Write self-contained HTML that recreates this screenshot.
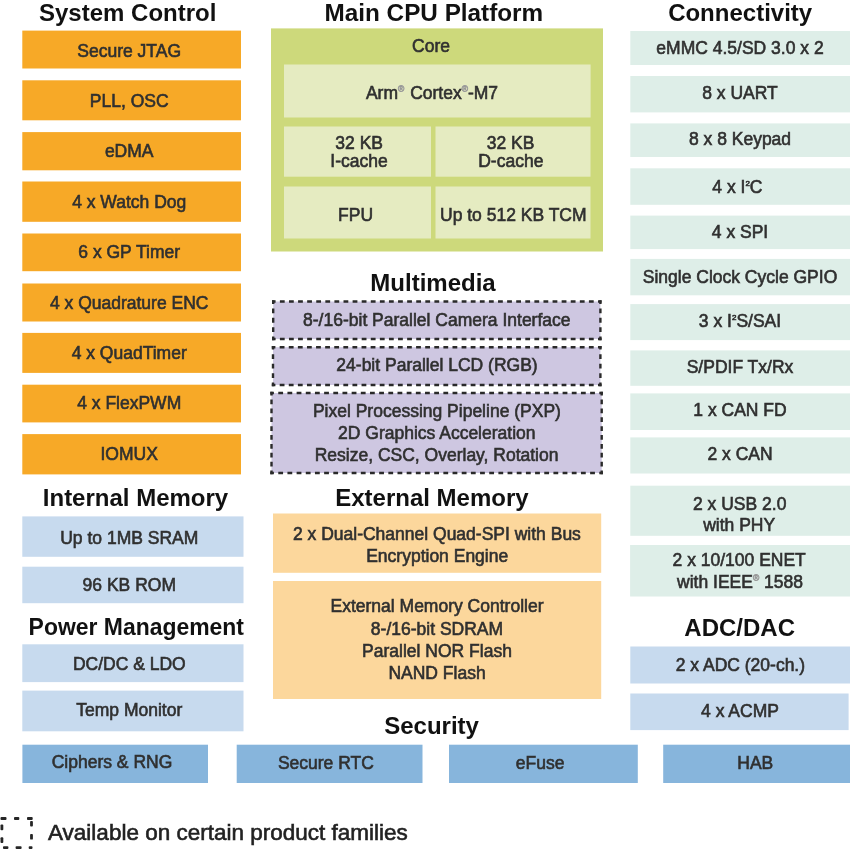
<!DOCTYPE html>
<html><head><meta charset="utf-8"><style>
html,body{margin:0;padding:0;background:#fff;width:850px;height:850px;overflow:hidden}
svg{display:block;will-change:transform}
text{font-family:"Liberation Sans",sans-serif}
</style></head><body>
<svg width="850" height="850" viewBox="0 0 850 850">
<rect width="850" height="850" fill="#fff"/>
<text x="127.7" y="21" font-size="24.0" font-weight="bold" fill="#111" stroke="#111" stroke-width="0" text-anchor="middle">System Control</text>
<text x="433.85" y="20.8" font-size="24.3" font-weight="bold" fill="#111" stroke="#111" stroke-width="0" text-anchor="middle">Main CPU Platform</text>
<text x="740.15" y="21.1" font-size="24.0" font-weight="bold" fill="#111" stroke="#111" stroke-width="0" text-anchor="middle">Connectivity</text>
<text x="433.0" y="290.7" font-size="24.0" font-weight="bold" fill="#111" stroke="#111" stroke-width="0" text-anchor="middle">Multimedia</text>
<text x="135.5" y="505.9" font-size="24.0" font-weight="bold" fill="#111" stroke="#111" stroke-width="0" text-anchor="middle">Internal Memory</text>
<text x="431.9" y="505.9" font-size="24.0" font-weight="bold" fill="#111" stroke="#111" stroke-width="0" text-anchor="middle">External Memory</text>
<text transform="translate(136.3,634.7) scale(0.956,1)" x="0" y="0" font-size="24" font-weight="bold" fill="#111" text-anchor="middle">Power Management</text>
<text x="739.7" y="635.9" font-size="24.0" font-weight="bold" fill="#111" stroke="#111" stroke-width="0" text-anchor="middle">ADC/DAC</text>
<text x="431.55" y="734.3" font-size="24.0" font-weight="bold" fill="#111" stroke="#111" stroke-width="0" text-anchor="middle">Security</text>
<rect x="22.3" y="30.6" width="218.70" height="37.90" fill="#F7A927"/>
<text x="129.2" y="56.6" font-size="17.5" fill="#303030" stroke="#303030" stroke-width="0.6" text-anchor="middle">Secure JTAG</text>
<rect x="22.3" y="80.3" width="218.70" height="40.00" fill="#F7A927"/>
<text x="129.2" y="107.0" font-size="17.5" fill="#303030" stroke="#303030" stroke-width="0.6" text-anchor="middle">PLL, OSC</text>
<rect x="22.3" y="132.1" width="218.70" height="38.20" fill="#F7A927"/>
<text x="129.2" y="157.4" font-size="17.5" fill="#303030" stroke="#303030" stroke-width="0.6" text-anchor="middle">eDMA</text>
<rect x="22.3" y="181.5" width="218.70" height="40.30" fill="#F7A927"/>
<text x="129.2" y="207.79999999999998" font-size="17.5" fill="#303030" stroke="#303030" stroke-width="0.6" text-anchor="middle">4 x Watch Dog</text>
<rect x="22.3" y="233.5" width="218.70" height="37.70" fill="#F7A927"/>
<text x="129.2" y="258.2" font-size="17.5" fill="#303030" stroke="#303030" stroke-width="0.6" text-anchor="middle">6 x GP Timer</text>
<rect x="22.3" y="283.5" width="218.70" height="38.00" fill="#F7A927"/>
<text x="129.2" y="308.6" font-size="17.5" fill="#303030" stroke="#303030" stroke-width="0.6" text-anchor="middle">4 x Quadrature ENC</text>
<rect x="22.3" y="332.9" width="218.70" height="40.00" fill="#F7A927"/>
<text x="129.2" y="359.0" font-size="17.5" fill="#303030" stroke="#303030" stroke-width="0.6" text-anchor="middle">4 x QuadTimer</text>
<rect x="22.3" y="384.7" width="218.70" height="37.70" fill="#F7A927"/>
<text x="129.2" y="409.40000000000003" font-size="17.5" fill="#303030" stroke="#303030" stroke-width="0.6" text-anchor="middle">4 x FlexPWM</text>
<rect x="22.3" y="434.1" width="218.70" height="40.30" fill="#F7A927"/>
<text x="129.2" y="459.8" font-size="17.5" fill="#303030" stroke="#303030" stroke-width="0.6" text-anchor="middle">IOMUX</text>
<rect x="22.3" y="516.4" width="221.20" height="40.40" fill="#C7DAEE"/>
<text x="129.3" y="543.5" font-size="17.5" fill="#303030" stroke="#303030" stroke-width="0.6" text-anchor="middle">Up to 1MB SRAM</text>
<rect x="22.3" y="566.7" width="221.20" height="36.50" fill="#C7DAEE"/>
<text x="129.3" y="590.6" font-size="17.5" fill="#303030" stroke="#303030" stroke-width="0.6" text-anchor="middle">96 KB ROM</text>
<rect x="22.3" y="644.3" width="221.20" height="37.80" fill="#C7DAEE"/>
<text x="129.3" y="670.3" font-size="17.5" fill="#303030" stroke="#303030" stroke-width="0.6" text-anchor="middle">DC/DC &amp; LDO</text>
<rect x="22.3" y="690.6" width="221.20" height="40.70" fill="#C7DAEE"/>
<text x="129.3" y="716.3" font-size="17.5" fill="#303030" stroke="#303030" stroke-width="0.6" text-anchor="middle">Temp Monitor</text>
<rect x="22.4" y="744.7" width="185.60" height="38.30" fill="#87B5DC"/>
<text x="112" y="767.7" font-size="17.5" fill="#303030" stroke="#303030" stroke-width="0.6" text-anchor="middle">Ciphers &amp; RNG</text>
<rect x="236.7" y="744.7" width="185.80" height="38.30" fill="#87B5DC"/>
<text x="325.9" y="768.5" font-size="17.5" fill="#303030" stroke="#303030" stroke-width="0.6" text-anchor="middle">Secure RTC</text>
<rect x="449" y="744.7" width="188.80" height="38.30" fill="#87B5DC"/>
<text x="540.1" y="768.8" font-size="17.5" fill="#303030" stroke="#303030" stroke-width="0.6" text-anchor="middle">eFuse</text>
<rect x="663.2" y="744.7" width="186.80" height="38.30" fill="#87B5DC"/>
<text x="755.3" y="769.3" font-size="17.5" fill="#303030" stroke="#303030" stroke-width="0.6" text-anchor="middle">HAB</text>
<rect x="271" y="28.4" width="332.00" height="223.10" fill="#CDD97B"/>
<text x="431" y="52" font-size="17.5" fill="#303030" stroke="#303030" stroke-width="0.6" text-anchor="middle">Core</text>
<rect x="284" y="64.5" width="306.60" height="53.00" fill="#E5EBC1"/>
<text x="432" y="98.8" font-size="17.5" fill="#303030" stroke="#303030" stroke-width="0.6" text-anchor="middle">Arm<tspan font-size="8.5" dy="-7" fill="#999" stroke="#999">®</tspan><tspan dy="7" dx="1"> Cortex</tspan><tspan font-size="8.5" dy="-7" fill="#999" stroke="#999">®</tspan><tspan dy="7">-M7</tspan></text>
<rect x="284" y="126.5" width="147.00" height="50.20" fill="#E5EBC1"/>
<rect x="435.5" y="126.5" width="155.00" height="50.20" fill="#E5EBC1"/>
<rect x="284" y="186.5" width="147.00" height="52.00" fill="#E5EBC1"/>
<rect x="435.5" y="186.5" width="155.00" height="52.00" fill="#E5EBC1"/>
<text x="359.2" y="148.5" font-size="17.5" fill="#303030" stroke="#303030" stroke-width="0.6" text-anchor="middle">32 KB</text>
<text x="359" y="167.2" font-size="17.5" fill="#303030" stroke="#303030" stroke-width="0.6" text-anchor="middle">I-cache</text>
<text x="510.6" y="148.5" font-size="17.5" fill="#303030" stroke="#303030" stroke-width="0.6" text-anchor="middle">32 KB</text>
<text x="510.8" y="167.2" font-size="17.5" fill="#303030" stroke="#303030" stroke-width="0.6" text-anchor="middle">D-cache</text>
<text x="355.6" y="221" font-size="17.5" fill="#303030" stroke="#303030" stroke-width="0.6" text-anchor="middle">FPU</text>
<text x="513.3" y="221" font-size="17.5" fill="#303030" stroke="#303030" stroke-width="0.6" text-anchor="middle">Up to 512 KB TCM</text>
<rect x="273.2" y="301.5" width="327.20" height="37.50" fill="#CEC7E1"/>
<line x1="273.2" y1="301.5" x2="600.4" y2="301.5" stroke="#2a2a2a" stroke-width="2.4" stroke-linecap="square" stroke-dasharray="2.400 6.689" stroke-dashoffset="1.200"/>
<line x1="600.4" y1="301.5" x2="600.4" y2="339" stroke="#2a2a2a" stroke-width="2.4" stroke-linecap="square" stroke-dasharray="2.400 6.975" stroke-dashoffset="1.200"/>
<line x1="273.2" y1="339" x2="600.4" y2="339" stroke="#2a2a2a" stroke-width="2.4" stroke-linecap="square" stroke-dasharray="2.400 6.689" stroke-dashoffset="1.200"/>
<line x1="273.2" y1="301.5" x2="273.2" y2="339" stroke="#2a2a2a" stroke-width="2.4" stroke-linecap="square" stroke-dasharray="2.400 6.975" stroke-dashoffset="1.200"/>
<rect x="273" y="347.2" width="327.40" height="37.80" fill="#CEC7E1"/>
<line x1="273" y1="347.2" x2="600.4" y2="347.2" stroke="#2a2a2a" stroke-width="2.4" stroke-linecap="square" stroke-dasharray="2.400 6.694" stroke-dashoffset="1.200"/>
<line x1="600.4" y1="347.2" x2="600.4" y2="385" stroke="#2a2a2a" stroke-width="2.4" stroke-linecap="square" stroke-dasharray="2.400 7.050" stroke-dashoffset="1.200"/>
<line x1="273" y1="385" x2="600.4" y2="385" stroke="#2a2a2a" stroke-width="2.4" stroke-linecap="square" stroke-dasharray="2.400 6.694" stroke-dashoffset="1.200"/>
<line x1="273" y1="347.2" x2="273" y2="385" stroke="#2a2a2a" stroke-width="2.4" stroke-linecap="square" stroke-dasharray="2.400 7.050" stroke-dashoffset="1.200"/>
<rect x="271.5" y="393" width="330.20" height="80.00" fill="#CEC7E1"/>
<line x1="271.5" y1="393" x2="601.7" y2="393" stroke="#2a2a2a" stroke-width="2.4" stroke-linecap="square" stroke-dasharray="2.400 6.772" stroke-dashoffset="1.200"/>
<line x1="601.7" y1="393" x2="601.7" y2="473" stroke="#2a2a2a" stroke-width="2.4" stroke-linecap="square" stroke-dasharray="2.400 6.489" stroke-dashoffset="1.200"/>
<line x1="271.5" y1="473" x2="601.7" y2="473" stroke="#2a2a2a" stroke-width="2.4" stroke-linecap="square" stroke-dasharray="2.400 6.772" stroke-dashoffset="1.200"/>
<line x1="271.5" y1="393" x2="271.5" y2="473" stroke="#2a2a2a" stroke-width="2.4" stroke-linecap="square" stroke-dasharray="2.400 6.489" stroke-dashoffset="1.200"/>
<text x="436.8" y="325.5" font-size="17.5" fill="#303030" stroke="#303030" stroke-width="0.6" text-anchor="middle">8-/16-bit Parallel Camera Interface</text>
<text x="437" y="371.1" font-size="17.5" fill="#303030" stroke="#303030" stroke-width="0.6" text-anchor="middle">24-bit Parallel LCD (RGB)</text>
<text x="436.9" y="416.5" font-size="17.5" fill="#303030" stroke="#303030" stroke-width="0.6" text-anchor="middle">Pixel Processing Pipeline (PXP)</text>
<text x="436.8" y="439" font-size="17.5" fill="#303030" stroke="#303030" stroke-width="0.6" text-anchor="middle">2D Graphics Acceleration</text>
<text x="436.6" y="460.7" font-size="17.5" fill="#303030" stroke="#303030" stroke-width="0.6" text-anchor="middle">Resize, CSC, Overlay, Rotation</text>
<rect x="273" y="513.5" width="328.20" height="59.30" fill="#FCD79C"/>
<rect x="273" y="581" width="328.20" height="118.00" fill="#FCD79C"/>
<text x="436.9" y="540.3" font-size="17.5" fill="#303030" stroke="#303030" stroke-width="0.6" text-anchor="middle">2 x Dual-Channel Quad-SPI with Bus</text>
<text x="437.2" y="561.8" font-size="17.5" fill="#303030" stroke="#303030" stroke-width="0.6" text-anchor="middle">Encryption Engine</text>
<text x="437" y="612.3" font-size="17.5" fill="#303030" stroke="#303030" stroke-width="0.6" text-anchor="middle">External Memory Controller</text>
<text x="437" y="634.6" font-size="17.5" fill="#303030" stroke="#303030" stroke-width="0.6" text-anchor="middle">8-/16-bit SDRAM</text>
<text x="437" y="656.8" font-size="17.5" fill="#303030" stroke="#303030" stroke-width="0.6" text-anchor="middle">Parallel NOR Flash</text>
<text x="437" y="679" font-size="17.5" fill="#303030" stroke="#303030" stroke-width="0.6" text-anchor="middle">NAND Flash</text>
<rect x="630.3" y="31" width="219.70" height="34.00" fill="#DEEEE8"/>
<text x="740" y="54.1" font-size="17.5" fill="#303030" stroke="#303030" stroke-width="0.6" text-anchor="middle">eMMC 4.5/SD 3.0 x 2</text>
<rect x="630.3" y="76" width="219.70" height="36.40" fill="#DEEEE8"/>
<text x="740" y="99.4" font-size="17.5" fill="#303030" stroke="#303030" stroke-width="0.6" text-anchor="middle">8 x UART</text>
<rect x="630.3" y="123.4" width="219.70" height="33.60" fill="#DEEEE8"/>
<text x="740" y="145.3" font-size="17.5" fill="#303030" stroke="#303030" stroke-width="0.6" text-anchor="middle">8 x 8 Keypad</text>
<rect x="630.3" y="168.3" width="219.70" height="36.50" fill="#DEEEE8"/>
<text x="737.4" y="192.8" font-size="17.5" fill="#303030" stroke="#303030" stroke-width="0.6" text-anchor="middle">4 x I<tspan font-size="8" dy="-7">2</tspan><tspan dy="7">C</tspan></text>
<rect x="630.3" y="215.6" width="219.70" height="33.50" fill="#DEEEE8"/>
<text x="740" y="238.2" font-size="17.5" fill="#303030" stroke="#303030" stroke-width="0.6" text-anchor="middle">4 x SPI</text>
<rect x="630.3" y="258.9" width="219.70" height="36.40" fill="#DEEEE8"/>
<text x="740" y="283" font-size="17.5" fill="#303030" stroke="#303030" stroke-width="0.6" text-anchor="middle">Single Clock Cycle GPIO</text>
<rect x="630.3" y="304.1" width="219.70" height="36.00" fill="#DEEEE8"/>
<text x="740" y="327.1" font-size="17.5" fill="#303030" stroke="#303030" stroke-width="0.6" text-anchor="middle">3 x I<tspan font-size="8" dy="-7">2</tspan><tspan dy="7">S/SAI</tspan></text>
<rect x="630.3" y="350.4" width="219.70" height="35.40" fill="#DEEEE8"/>
<text x="740" y="373.1" font-size="17.5" fill="#303030" stroke="#303030" stroke-width="0.6" text-anchor="middle">S/PDIF Tx/Rx</text>
<rect x="630.3" y="393.4" width="219.70" height="36.60" fill="#DEEEE8"/>
<text x="740" y="416.4" font-size="17.5" fill="#303030" stroke="#303030" stroke-width="0.6" text-anchor="middle">1 x CAN FD</text>
<rect x="630.3" y="437.4" width="219.70" height="36.10" fill="#DEEEE8"/>
<text x="740" y="459.7" font-size="17.5" fill="#303030" stroke="#303030" stroke-width="0.6" text-anchor="middle">2 x CAN</text>
<rect x="630.3" y="485.7" width="219.70" height="50.10" fill="#DEEEE8"/>
<text x="739.7" y="509.6" font-size="17.5" fill="#303030" stroke="#303030" stroke-width="0.6" text-anchor="middle">2 x USB 2.0</text>
<text x="739.2" y="531" font-size="17.5" fill="#303030" stroke="#303030" stroke-width="0.6" text-anchor="middle">with PHY</text>
<rect x="630.1" y="545" width="219.90" height="51.50" fill="#DEEEE8"/>
<text x="739.2" y="566" font-size="17.5" fill="#303030" stroke="#303030" stroke-width="0.6" text-anchor="middle">2 x 10/100 ENET</text>
<text x="740" y="587.6" font-size="17.5" fill="#303030" stroke="#303030" stroke-width="0.6" text-anchor="middle">with IEEE<tspan font-size="8.5" dy="-7" fill="#999" stroke="#999">®</tspan><tspan dy="7"> 1588</tspan></text>
<rect x="630.3" y="646.5" width="219.70" height="37.00" fill="#C7DAEE"/>
<text x="740.4" y="671.1" font-size="17.5" fill="#303030" stroke="#303030" stroke-width="0.6" text-anchor="middle">2 x ADC (20-ch.)</text>
<rect x="630.3" y="693.5" width="218.30" height="36.60" fill="#C7DAEE"/>
<text x="740" y="716.6" font-size="17.5" fill="#303030" stroke="#303030" stroke-width="0.6" text-anchor="middle">4 x ACMP</text>
<rect x="0.5" y="817.1" width="6.00" height="2.80" rx="0.9" fill="#262626"/>
<rect x="14" y="817.1" width="5.30" height="2.80" rx="0.9" fill="#262626"/>
<rect x="27" y="817.1" width="5.70" height="2.80" rx="0.9" fill="#262626"/>
<rect x="30.1" y="821" width="2.80" height="5.50" rx="0.9" fill="#262626"/>
<rect x="30.1" y="834" width="2.80" height="5.60" rx="0.9" fill="#262626"/>
<rect x="0.5" y="824.6" width="2.80" height="5.60" rx="0.9" fill="#262626"/>
<rect x="0.5" y="837.3" width="2.80" height="5.60" rx="0.9" fill="#262626"/>
<rect x="3" y="846.2" width="5.40" height="2.80" rx="0.9" fill="#262626"/>
<rect x="15.6" y="846.2" width="6.00" height="2.80" rx="0.9" fill="#262626"/>
<rect x="28.7" y="846.2" width="3.80" height="2.80" rx="0.9" fill="#262626"/>
<text x="48" y="840.2" font-size="22.5" fill="#222" stroke="#222" stroke-width="0.6" text-anchor="start">Available on certain product families</text>
</svg></body></html>
